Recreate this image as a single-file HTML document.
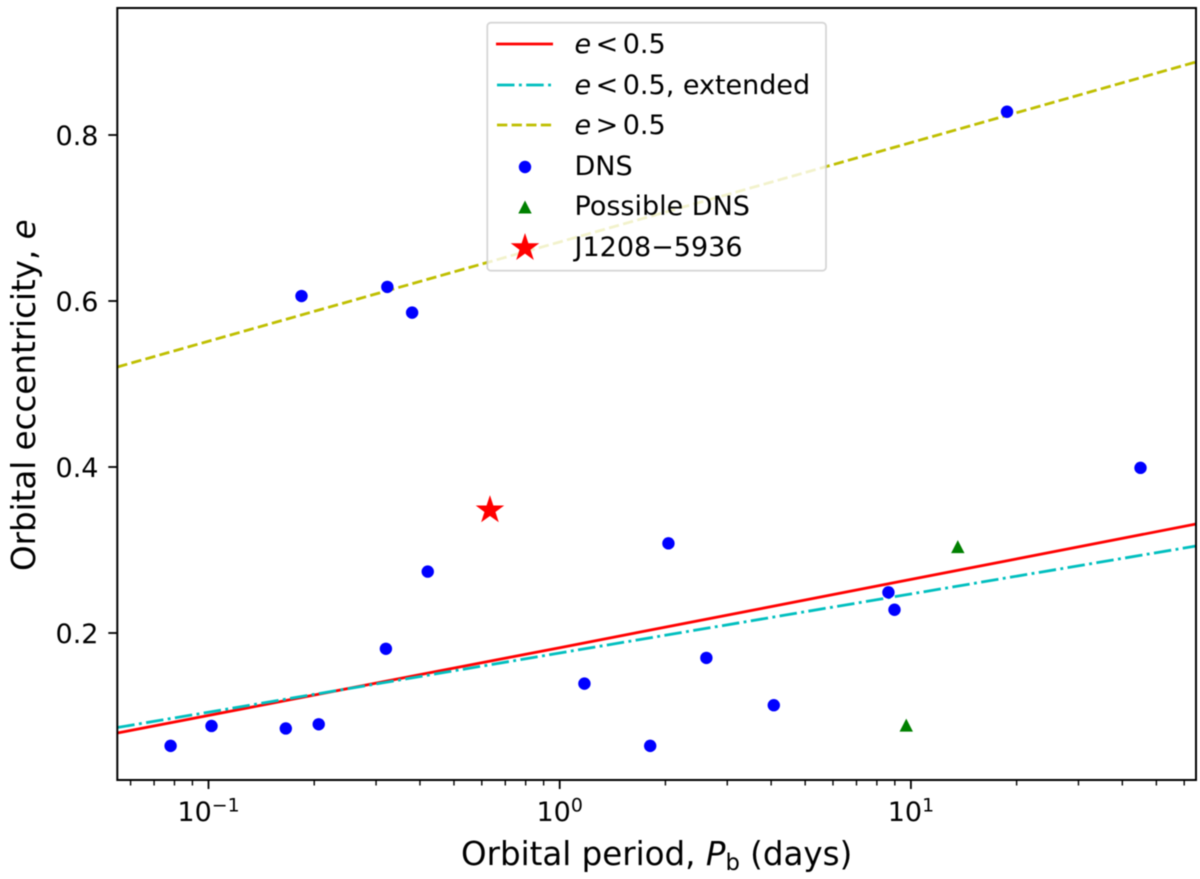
<!DOCTYPE html>
<html lang="en">
<head>
<meta charset="utf-8">
<title>Orbital eccentricity vs orbital period</title>
<style>
  html, body { margin: 0; padding: 0; background: #fff; }
  #chart { display: block; width: 1200px; height: 879px; filter: blur(0.5px); }
  text { font-family: "DejaVu Sans", "Liberation Sans", sans-serif; fill: #000; }
</style>
</head>
<body>
<svg id="chart" xmlns="http://www.w3.org/2000/svg" width="1200" height="879" viewBox="0 0 1200 879">
  <rect x="0" y="0" width="1200" height="879" fill="#fff"/>
  <g id="lines"></g>
  <g id="points"></g>
  <g id="ticks"></g>
  <rect x="117.3" y="8" width="1078.7" height="772" fill="none" stroke="#000" stroke-width="2"/>

  <text x="461" y="865" font-size="32.5">Orbital period, <tspan font-style="italic">P</tspan><tspan font-size="22.7" dy="5">b</tspan><tspan dy="-5"> (days)</tspan></text>
  <text transform="translate(35,571) rotate(-90)" font-size="32.5">Orbital eccentricity, <tspan font-style="italic">e</tspan></text>

  <g>
    <rect x="487.3" y="22.7" width="338.7" height="248" rx="3.5" ry="3.5" fill="#fff" fill-opacity="0.8" stroke="#ccc" stroke-opacity="0.8" stroke-width="1.8"/>
    <g>
      <line x1="496" y1="44" x2="553" y2="44" stroke="#ff0000" stroke-width="2.8"/>
      <text x="574.5" y="53" font-size="27"><tspan font-style="italic">e</tspan><tspan dx="4.5">&lt;</tspan><tspan dx="4.5">0.5</tspan></text>
    </g>
    <g>
      <line x1="497" y1="85" x2="553" y2="85" stroke="#00bfbf" stroke-width="2.8" stroke-dasharray="17.5 4.4 2.9 4.4"/>
      <text x="574.5" y="94" font-size="27"><tspan font-style="italic">e</tspan><tspan dx="4.5">&lt;</tspan><tspan dx="4.5">0.5, extended</tspan></text>
    </g>
    <g>
      <line x1="497" y1="125" x2="553" y2="125" stroke="#bfbf00" stroke-width="2.8" stroke-dasharray="10.3 4.3"/>
      <text x="574.5" y="134" font-size="27"><tspan font-style="italic">e</tspan><tspan dx="4.5">&gt;</tspan><tspan dx="4.5">0.5</tspan></text>
    </g>
    <g>
      <circle cx="525" cy="167" r="6.2" fill="#0000ff"/>
      <text x="574.5" y="175" font-size="27">DNS</text>
    </g>
    <g>
      <polygon points="525,200.5 531.7,213.5 518.3,213.5" fill="#008000"/>
      <text x="574.5" y="215" font-size="27">Possible DNS</text>
    </g>
    <g>
      <polygon points="525,233 528.4,243.3 539.3,243.3 530.5,249.7 533.8,260 525,253.6 516.2,260 519.5,249.7 510.7,243.3 521.6,243.3" fill="#ff0000"/>
      <text x="574.5" y="256" font-size="27">J1208−5936</text>
    </g>
  </g>
</svg>

<script>
// Data
const xMajorTicks = [0.1, 1, 10];
const xMajorExponents = ["−1", "0", "1"];
const xMinorTicks = [0.06, 0.07, 0.08, 0.09, 0.2, 0.3, 0.4, 0.5, 0.6, 0.7, 0.8, 0.9,
                     2, 3, 4, 5, 6, 7, 8, 9, 20, 30, 40, 50, 60];
const yTicks = [0.2, 0.4, 0.6, 0.8];
const yTickLabels = ["0.2", "0.4", "0.6", "0.8"];

const linePeriods = [0.055, 1, 64.85];
const lowEccValues = [0.0795, 0.1823, 0.3313];
const extendedValues = [0.0861, 0.1759, 0.3048];
const highEccValues = [0.5205, 0.6711, 0.888];

const dnsPeriods = [0.078, 0.102, 0.166, 0.206, 0.32, 0.421, 0.184, 0.323, 0.38,
                    1.176, 1.81, 2.04, 2.616, 4.07, 8.63, 8.98, 18.78, 45.06];
const dnsEcc = [0.064, 0.088, 0.085, 0.09, 0.181, 0.274, 0.606, 0.617, 0.586,
                0.139, 0.064, 0.308, 0.17, 0.113, 0.249, 0.228, 0.828, 0.399];
const possiblePeriods = [9.7, 13.6];
const possibleEcc = [0.089, 0.304];
const starPeriods = [0.633];
const starEcc = [0.348];

// Axis functions
const X_DECADE = 351.2, X_ZERO = 559.7;
const Y_UNIT = 830, Y_REF_VALUE = 0.8, Y_REF_PX = 135;
function xScale(p) { return X_ZERO + X_DECADE * Math.log10(p); }
function yScale(e) { return Y_REF_PX + (Y_REF_VALUE - e) * Y_UNIT; }

const NS = "http://www.w3.org/2000/svg";
function make(tag, parent, attrs) {
  const el = document.createElementNS(NS, tag);
  for (const k in attrs) el.setAttribute(k, attrs[k]);
  parent.appendChild(el);
  return el;
}

const linesG = document.getElementById("lines");
const pointsG = document.getElementById("points");
const ticksG = document.getElementById("ticks");

function linePoints(values) {
  return values.map(function (v, i) { return xScale(linePeriods[i]) + "," + yScale(v); }).join(" ");
}

const lowLine = make("polyline", linesG, { points: linePoints(lowEccValues), fill: "none", stroke: "#ff0000", "stroke-width": 2.8 });



const extLine = make("polyline", linesG, { points: linePoints(extendedValues), fill: "none", stroke: "#00bfbf", "stroke-width": 2.8, "stroke-dasharray": "17.5 4.4 2.9 4.4" });



const highLine = make("polyline", linesG, { points: linePoints(highEccValues), fill: "none", stroke: "#bfbf00", "stroke-width": 2.8, "stroke-dasharray": "10.3 4.3" });



dnsPeriods.forEach(function (p, i) {
  const c = make("circle", pointsG, { cx: xScale(p), cy: yScale(dnsEcc[i]), r: 6.2, fill: "#0000ff" });
  
  
});

possiblePeriods.forEach(function (p, i) {
  const x = xScale(p), y = yScale(possibleEcc[i]);
  const t = make("polygon", pointsG, { points: x + "," + (y - 6.5) + " " + (x + 6.7) + "," + (y + 6.5) + " " + (x - 6.7) + "," + (y + 6.5), fill: "#008000" });
  
  
});

starPeriods.forEach(function (p, i) {
  const x = xScale(p), y = yScale(starEcc[i]);
  const pts = [];
  for (let k = 0; k < 10; k++) {
    const r = k % 2 === 0 ? 15 : 5.8;
    const a = -Math.PI / 2 + k * Math.PI / 5;
    pts.push((x + r * Math.cos(a)) + "," + (y + r * Math.sin(a)));
  }
  const s = make("polygon", pointsG, { points: pts.join(" "), fill: "#ff0000" });
  
  
});

const AXIS_BOTTOM = 780, AXIS_LEFT = 117.3;

xMinorTicks.forEach(function (p) {
  const x = xScale(p);
  const t = make("line", ticksG, { x1: x, x2: x, y1: AXIS_BOTTOM, y2: AXIS_BOTTOM + 5.5, stroke: "#000", "stroke-width": 1.4 });
  
  
});

xMajorTicks.forEach(function (p, i) {
  const x = xScale(p);
  const t = make("line", ticksG, { x1: x, x2: x, y1: AXIS_BOTTOM, y2: AXIS_BOTTOM + 9, stroke: "#000", "stroke-width": 1.8 });
  
  
  const label = make("text", ticksG, { x: x, y: 821, "font-size": 27, "text-anchor": "middle" });
  
  
  const base = make("tspan", label, {});
  base.textContent = "10";
  const sup = make("tspan", label, { "font-size": 18.9, dy: -9.5 });
  sup.textContent = xMajorExponents[i];
});

yTicks.forEach(function (v, i) {
  const y = yScale(v);
  const t = make("line", ticksG, { x1: AXIS_LEFT - 9, x2: AXIS_LEFT, y1: y, y2: y, stroke: "#000", "stroke-width": 1.8 });
  
  
  const label = make("text", ticksG, { x: 98.5, y: y + 10, "font-size": 27, "text-anchor": "end" });
  
  
  label.textContent = yTickLabels[i];
});
</script>
</body>
</html>
